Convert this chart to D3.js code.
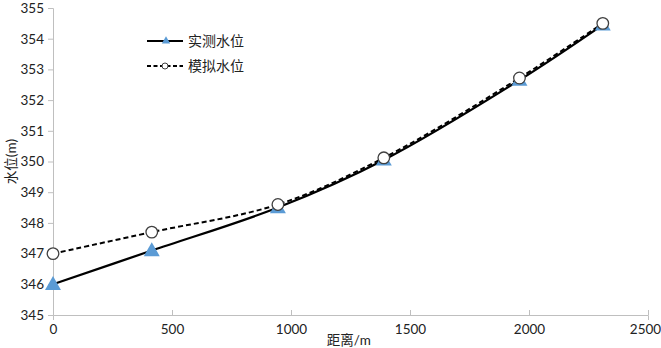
<!DOCTYPE html>
<html>
<head>
<meta charset="utf-8">
<script src="https://cdn.jsdelivr.net/npm/d3@7"></script>
<style>
  body { margin: 0; background: #fff; }
  text { font-family: Lato, "Noto Sans CJK SC", sans-serif; }
</style>
</head>
<body>
<div id="chart"></div>
<script>
// distance along the river (m)
let distance = [0, 415, 945, 1390, 1960, 2310];
// measured and simulated water level (m)
let measuredLevel = [346.0, 347.1, 348.5, 350.05, 352.65, 354.45];
let simulatedLevel = [347.0, 347.7, 348.6, 350.12, 352.72, 354.5];
let xTicks = [0, 500, 1000, 1500, 2000, 2500];
let yTicks = [345, 346, 347, 348, 349, 350, 351, 352, 353, 354, 355];
let seriesNames = ["实测水位", "模拟水位"];

let width = 661, height = 348;
let margin = {left: 53, right: 13, top: 8, bottom: 33};

let svg = d3.select("#chart").append("svg")
    .attr("width", width)
    .attr("height", height);

let xScale = d3.scaleLinear().domain([0, 2500]).range([margin.left, width - margin.right]);
let yScale = d3.scaleLinear().domain([345, 355]).range([height - margin.bottom, margin.top]);

// axes
let xAxis = d3.axisBottom(xScale).tickValues(xTicks).tickFormat(d3.format("d")).tickSize(5).tickPadding(4);
let yAxis = d3.axisLeft(yScale).tickValues(yTicks).tickFormat(d3.format("d")).tickSize(5).tickPadding(4);

let gx = svg.append("g")
    .attr("transform", "translate(0," + yScale(345) + ")")
    .call(xAxis);
let gy = svg.append("g")
    .attr("transform", "translate(" + xScale(0) + ",0)")
    .call(yAxis);

[gx, gy].forEach(function(g) {
    g.select(".domain").attr("stroke", "#bfbfbf");
    g.selectAll(".tick line").attr("stroke", "#bfbfbf");
    g.selectAll(".tick text").attr("fill", "#222").style("font-size", "13.5px");
});
gx.selectAll(".tick line").attr("y1", 0).attr("y2", -5);
gy.selectAll(".tick line").attr("x2", -5);
gx.selectAll(".tick text").filter(function(d) { return d === 2500; }).attr("dx", -3);

// axis titles
svg.append("text")
    .attr("x", xScale(1150)).attr("y", 345)
    .attr("fill", "#222").style("font-size", "13.5px")
    .text("距离/m");
svg.append("text")
    .attr("transform", "translate(16," + yScale(350) + ") rotate(-90)")
    .attr("text-anchor", "middle")
    .attr("fill", "#222").style("font-size", "13.5px")
    .text("水位(m)");

let measured = distance.map(function(d, i) { return {x: d, y: measuredLevel[i]}; });
let simulated = distance.map(function(d, i) { return {x: d, y: simulatedLevel[i]}; });

let line = d3.line()
    .x(function(d) { return xScale(d.x); })
    .y(function(d) { return yScale(d.y); })
    .curve(d3.curveCatmullRom);

svg.append("path").datum(measured)
    .attr("d", line).attr("fill", "none")
    .attr("stroke", "#000").attr("stroke-width", 2.2);
svg.append("path").datum(simulated)
    .attr("d", line).attr("fill", "none")
    .attr("stroke", "#000").attr("stroke-width", 2)
    .attr("stroke-dasharray", "5,3");

let tri = d3.symbol().type(d3.symbolTriangle).size(110);

svg.selectAll(".tri").data(measured).enter()
    .append("path")
    .attr("class", "tri")
    .attr("d", tri)
    .attr("transform", function(d) { return "translate(" + xScale(d.x) + "," + (yScale(d.y) + 1) + ")"; })
    .attr("fill", "#5b9bd5");

svg.selectAll(".circ").data(simulated).enter()
    .append("circle")
    .attr("class", "circ")
    .attr("cx", function(d) { return xScale(d.x); })
    .attr("cy", function(d) { return yScale(d.y); })
    .attr("r", 5.8)
    .attr("fill", "#fff")
    .attr("stroke", "#404040")
    .attr("stroke-width", 1.3);

// legend
let legend = svg.append("g");
legend.append("line")
    .attr("x1", 147).attr("x2", 183).attr("y1", 41).attr("y2", 41)
    .attr("stroke", "#000").attr("stroke-width", 2);
legend.append("path")
    .attr("d", d3.symbol().type(d3.symbolTriangle).size(30))
    .attr("transform", "translate(166,41)")
    .attr("fill", "#5b9bd5");
legend.append("text")
    .attr("x", 188).attr("y", 46)
    .attr("fill", "#222").style("font-size", "14px")
    .text(seriesNames[0]);

legend.append("line")
    .attr("x1", 147).attr("x2", 183).attr("y1", 66).attr("y2", 66)
    .attr("stroke", "#000").attr("stroke-width", 2)
    .attr("stroke-dasharray", "4,2.5");
legend.append("circle")
    .attr("cx", 165).attr("cy", 66).attr("r", 3)
    .attr("fill", "#fff").attr("stroke", "#404040").attr("stroke-width", 1);
legend.append("text")
    .attr("x", 188).attr("y", 71)
    .attr("fill", "#222").style("font-size", "14px")
    .text(seriesNames[1]);
</script>
</body>
</html>
